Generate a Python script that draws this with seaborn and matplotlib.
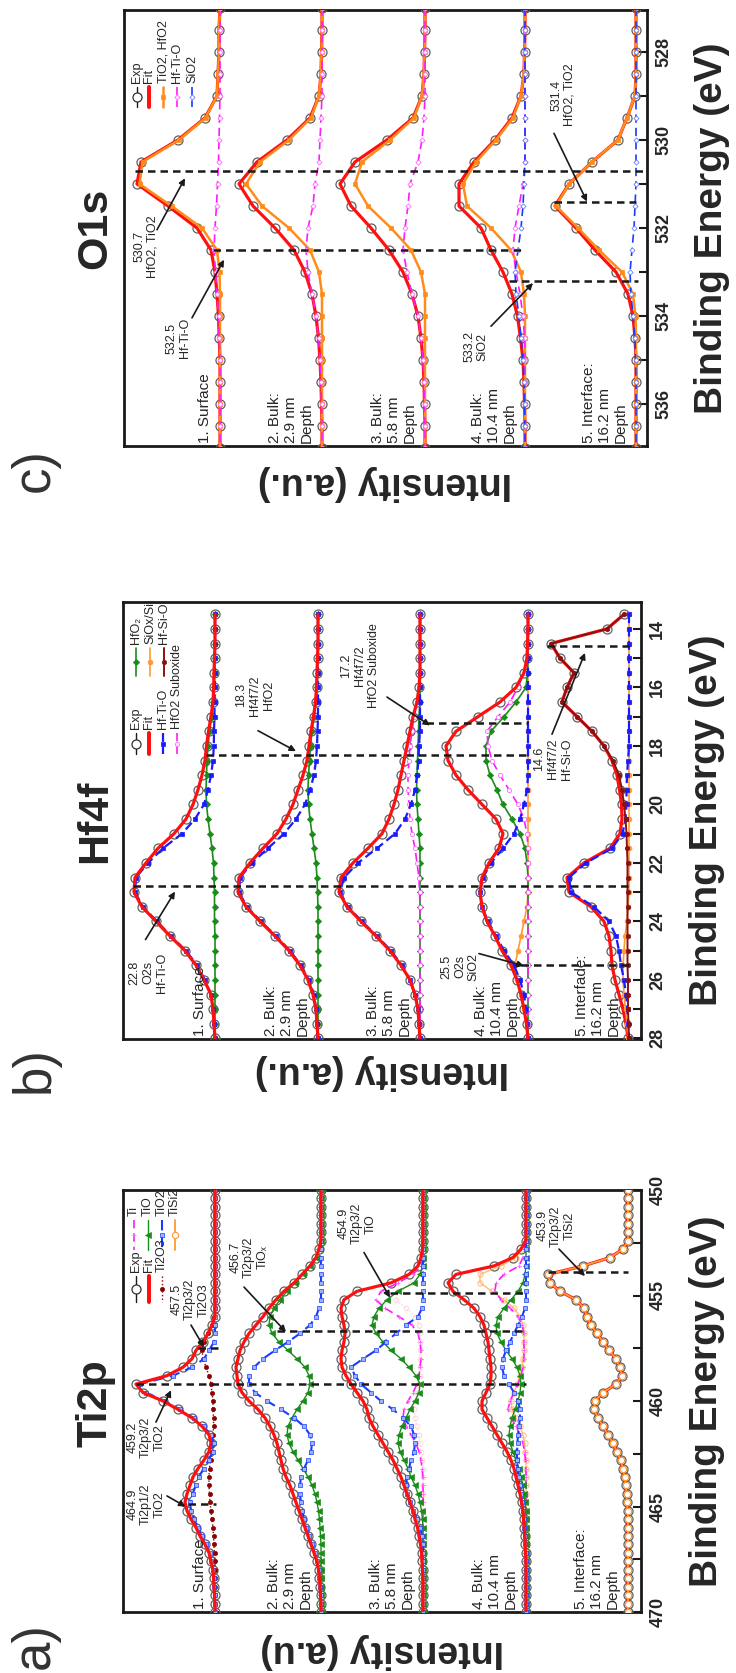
import numpy as np
import matplotlib
matplotlib.use("Agg")
import matplotlib.pyplot as plt
from matplotlib.lines import Line2D
import seaborn as sns

# ---------------- O1s (panel c) ----------------
o1s_energy = [527.0, 527.5, 528.0, 528.5, 529.0, 529.5, 530.0, 530.5, 531.0, 531.5,
              532.0, 532.5, 533.0, 533.5, 534.0, 534.5, 535.0, 535.5, 536.0, 536.5, 537.0]

o_exp_1 = [0, 0.01, 0.01, 0.02, 0.03, 0.15, 0.42, 0.79, 0.83, 0.52,
           0.23, 0.09, 0.05, 0.03, 0.015, 0.008, 0, 0, 0, 0, 0]
o_tio2_1 = [0, 0.01, 0.01, 0.02, 0.03, 0.145, 0.41, 0.775, 0.805, 0.485,
            0.18, 0.03, 0.005, 0, 0, 0, 0, 0, 0, 0, 0]
o_hftio_1 = [0, 0, 0, 0, 0, 0.005, 0.01, 0.015, 0.025, 0.035,
             0.05, 0.06, 0.045, 0.03, 0.015, 0.008, 0, 0, 0, 0, 0]

o_exp_2 = [0, 0, 0.005, 0.01, 0.03, 0.12, 0.35, 0.65, 0.83, 0.69,
           0.47, 0.28, 0.17, 0.10, 0.06, 0.035, 0.02, 0.01, 0.005, 0, 0]
o_tio2_2 = [0, 0, 0.005, 0.01, 0.03, 0.11, 0.33, 0.62, 0.76, 0.60,
            0.33, 0.12, 0.03, 0, 0, 0, 0, 0, 0, 0, 0]
o_hftio_2 = [0, 0, 0, 0, 0, 0.01, 0.02, 0.03, 0.07, 0.09,
             0.14, 0.16, 0.14, 0.10, 0.06, 0.035, 0.02, 0.01, 0.005, 0, 0]

o_exp_3 = [0, 0, 0.005, 0.01, 0.03, 0.12, 0.38, 0.70, 0.85, 0.74,
           0.54, 0.36, 0.22, 0.13, 0.07, 0.04, 0.02, 0.01, 0.005, 0, 0]
o_tio2_3 = [0, 0, 0.005, 0.01, 0.03, 0.11, 0.35, 0.63, 0.70, 0.57,
            0.34, 0.14, 0.04, 0, 0, 0, 0, 0, 0, 0, 0]
o_hftio_3 = [0, 0, 0, 0, 0, 0.01, 0.03, 0.07, 0.15, 0.17,
             0.20, 0.22, 0.18, 0.13, 0.07, 0.04, 0.02, 0.01, 0.005, 0, 0]

o_exp_4 = [0, 0, 0.005, 0.01, 0.04, 0.13, 0.30, 0.51, 0.66, 0.66,
           0.44, 0.34, 0.22, 0.13, 0.075, 0.045, 0.02, 0.01, 0.005, 0, 0]
o_tio2_4 = [0, 0, 0.005, 0.01, 0.04, 0.12, 0.29, 0.49, 0.62, 0.58,
            0.34, 0.14, 0.04, 0.01, 0, 0, 0, 0, 0, 0, 0]
o_hftio_4 = [0, 0, 0, 0, 0, 0, 0, 0, 0.02, 0.06,
             0.10, 0.12, 0.09, 0.05, 0.02, 0.005, 0, 0, 0, 0, 0]
o_sio2_4 = [0, 0, 0, 0, 0, 0, 0, 0, 0.01, 0.02,
            0.04, 0.07, 0.10, 0.09, 0.06, 0.04, 0.02, 0.01, 0.005, 0, 0]

o_exp_5 = [0, 0, 0, 0, 0.01, 0.09, 0.18, 0.44, 0.67, 0.81,
           0.60, 0.41, 0.20, 0.08, 0.03, 0.01, 0, 0, 0, 0, 0]
o_tio2_5 = [0, 0, 0, 0, 0.01, 0.09, 0.18, 0.44, 0.67, 0.80,
            0.58, 0.37, 0.14, 0.03, 0.005, 0, 0, 0, 0, 0, 0]
o_sio2_5 = [0, 0, 0, 0, 0, 0, 0, 0, 0, 0.01,
            0.02, 0.04, 0.06, 0.05, 0.03, 0.01, 0.005, 0, 0, 0, 0]

o1s_peaks = [530.7, 532.5, 533.2, 531.4]

# ---------------- Hf4f (panel b) ----------------
hf_energy = [13.5, 14.0, 14.5, 15.0, 15.5, 16.0, 16.5, 17.0, 17.5, 18.0,
             18.5, 19.0, 19.5, 20.0, 20.5, 21.0, 21.5, 22.0, 22.5, 23.0,
             23.5, 24.0, 24.5, 25.0, 25.5, 26.0, 26.5, 27.0, 27.5, 28.0]

hf_exp_1 = [0, 0, 0, 0.005, 0.01, 0.013, 0.02, 0.04, 0.065, 0.085,
            0.10, 0.13, 0.17, 0.22, 0.29, 0.41, 0.57, 0.69, 0.80, 0.81,
            0.73, 0.59, 0.45, 0.30, 0.19, 0.11, 0.04, 0.02, 0.01, 0]
hf_hftio_1 = [0, 0, 0, 0, 0, 0, 0.005, 0.005, 0.01, 0.012,
              0.02, 0.04, 0.07, 0.11, 0.20, 0.33, 0.52, 0.67, 0.79, 0.80,
              0.72, 0.58, 0.44, 0.29, 0.18, 0.10, 0.04, 0.02, 0.01, 0]
hf_hfo2_1 = [0, 0, 0, 0, 0.005, 0.01, 0.02, 0.035, 0.055, 0.07,
             0.08, 0.085, 0.09, 0.085, 0.07, 0.05, 0.03, 0.015, 0.01, 0.005,
             0.005, 0.005, 0, 0, 0, 0, 0, 0, 0, 0]

hf_exp_2 = [0, 0, 0, 0.005, 0.01, 0.015, 0.025, 0.045, 0.07, 0.09,
            0.11, 0.15, 0.20, 0.25, 0.32, 0.41, 0.55, 0.68, 0.79, 0.80,
            0.72, 0.58, 0.43, 0.29, 0.18, 0.10, 0.05, 0.02, 0.01, 0]
hf_hftio_2 = [0, 0, 0, 0, 0, 0, 0, 0, 0.005, 0.01,
              0.02, 0.04, 0.08, 0.13, 0.22, 0.34, 0.50, 0.66, 0.78, 0.79,
              0.71, 0.57, 0.42, 0.28, 0.17, 0.09, 0.04, 0.02, 0.01, 0]
hf_hfo2_2 = [0, 0, 0, 0, 0.005, 0.01, 0.02, 0.04, 0.06, 0.075,
             0.085, 0.095, 0.10, 0.095, 0.08, 0.06, 0.04, 0.02, 0.01, 0.005,
             0, 0, 0, 0, 0, 0, 0, 0, 0, 0]

hf_exp_3 = [0, 0, 0, 0, 0, 0.01, 0.03, 0.07, 0.10, 0.13,
            0.16, 0.19, 0.22, 0.26, 0.31, 0.38, 0.52, 0.67, 0.79, 0.81,
            0.73, 0.59, 0.44, 0.30, 0.19, 0.10, 0.05, 0.02, 0.01, 0]
hf_hftio_3 = [0, 0, 0, 0, 0, 0, 0, 0, 0, 0.01,
              0.015, 0.03, 0.05, 0.09, 0.15, 0.25, 0.43, 0.62, 0.76, 0.80,
              0.72, 0.58, 0.43, 0.29, 0.18, 0.10, 0.05, 0.02, 0.01, 0]
hf_sub_3 = [0, 0, 0, 0, 0, 0.01, 0.03, 0.06, 0.08, 0.10,
            0.11, 0.12, 0.12, 0.11, 0.10, 0.08, 0.05, 0.03, 0.01, 0.005,
            0, 0, 0, 0, 0, 0, 0, 0, 0, 0]
hf_hfo2_3 = [0, 0, 0, 0, 0, 0, 0, 0.01, 0.015, 0.02,
             0.025, 0.03, 0.035, 0.03, 0.02, 0.01, 0, 0, 0, 0,
             0, 0, 0, 0, 0, 0, 0, 0, 0, 0]

hf_exp_4 = [0, 0, 0.005, 0.01, 0.04, 0.12, 0.28, 0.50, 0.72, 0.82,
            0.80, 0.72, 0.60, 0.46, 0.32, 0.25, 0.29, 0.39, 0.46, 0.48,
            0.46, 0.41, 0.33, 0.26, 0.17, 0.11, 0.07, 0.04, 0.015, 0]
hf_hftio_4 = [0, 0, 0, 0, 0, 0, 0, 0, 0, 0,
              0, 0, 0.01, 0.04, 0.08, 0.14, 0.25, 0.37, 0.45, 0.48,
              0.46, 0.40, 0.32, 0.24, 0.14, 0.08, 0.04, 0.02, 0.01, 0]
hf_siox_4 = [0, 0, 0, 0, 0, 0, 0, 0, 0, 0,
             0, 0, 0, 0, 0, 0, 0, 0, 0, 0,
             0.01, 0.04, 0.07, 0.10, 0.13, 0.11, 0.07, 0.04, 0.015, 0.005]
hf_hfo2_4 = [0, 0, 0, 0, 0.005, 0.02, 0.12, 0.24, 0.37, 0.42,
             0.42, 0.38, 0.31, 0.25, 0.16, 0.08, 0.03, 0.01, 0, 0,
             0, 0, 0, 0, 0, 0, 0, 0, 0, 0]
hf_sub_4 = [0, 0, 0, 0.01, 0.04, 0.10, 0.18, 0.30, 0.41, 0.40,
            0.36, 0.28, 0.19, 0.10, 0.04, 0.01, 0, 0, 0, 0,
            0, 0, 0, 0, 0, 0, 0, 0, 0, 0]

hf_exp_5 = [0.05, 0.22, 0.78, 0.69, 0.55, 0.62, 0.67, 0.52, 0.37, 0.25,
            0.17, 0.12, 0.095, 0.075, 0.07, 0.09, 0.19, 0.45, 0.62, 0.60,
            0.38, 0.25, 0.20, 0.18, 0.17, 0.14, 0.10, 0.06, 0.03, 0.01]
hf_hfsio_5 = [0.05, 0.22, 0.78, 0.69, 0.55, 0.62, 0.67, 0.52, 0.37, 0.25,
              0.16, 0.10, 0.07, 0.05, 0.035, 0.025, 0.02, 0.015, 0.015, 0.015,
              0.015, 0.015, 0.015, 0.015, 0.015, 0.01, 0.01, 0.01, 0.005, 0]
hf_hftio_5 = [0, 0, 0, 0, 0, 0, 0, 0, 0, 0,
              0.01, 0.02, 0.025, 0.025, 0.035, 0.065, 0.17, 0.43, 0.60, 0.58,
              0.35, 0.20, 0.13, 0.10, 0.08, 0.05, 0.03, 0.015, 0.01, 0]
hf_siox_5 = [0, 0, 0, 0, 0, 0, 0, 0, 0, 0,
             0, 0, 0, 0, 0, 0, 0, 0, 0, 0,
             0.01, 0.02, 0.04, 0.05, 0.06, 0.06, 0.05, 0.035, 0.02, 0.01]

hf_peaks = [22.8, 18.3, 17.2, 25.5, 14.6]

# ---------------- Ti2p (panel a) ----------------
ti_energy = [450.0, 450.4, 450.8, 451.2, 451.6, 452.0, 452.4, 452.8, 453.2, 453.6,
             454.0, 454.4, 454.8, 455.2, 455.6, 456.0, 456.4, 456.8, 457.2, 457.6,
             458.0, 458.4, 458.8, 459.2, 459.6, 460.0, 460.4, 460.8, 461.2, 461.6,
             462.0, 462.4, 462.8, 463.2, 463.6, 464.0, 464.4, 464.8, 465.2, 465.6,
             466.0, 466.4, 466.8, 467.2, 467.6, 468.0, 468.4, 468.8, 469.2, 469.6,
             470.0]

ti_exp_1 = [0, 0, 0, 0, 0, 0, 0, 0, 0, 0,
            0, 0, 0, 0, 0, 0, 0.03, 0.07, 0.12, 0.19,
            0.23, 0.32, 0.48, 0.79, 0.72, 0.52, 0.37, 0.23, 0.13, 0.06,
            0.04, 0.06, 0.11, 0.17, 0.22, 0.25, 0.28, 0.30, 0.28, 0.24,
            0.19, 0.15, 0.10, 0.06, 0.04, 0.02, 0.014, 0.01, 0.005, 0,
            0]
ti_ti2o3_1 = [0, 0, 0, 0, 0, 0, 0, 0, 0, 0,
              0, 0, 0, 0, 0.005, 0.01, 0.03, 0.07, 0.11, 0.13,
              0.12, 0.09, 0.06, 0.04, 0.03, 0.02, 0.02, 0.015, 0.015, 0.02,
              0.025, 0.035, 0.045, 0.055, 0.06, 0.06, 0.055, 0.05, 0.04, 0.03,
              0.02, 0.015, 0.01, 0.005, 0, 0, 0, 0, 0, 0,
              0]
ti_tio2_1 = [0, 0, 0, 0, 0, 0, 0, 0, 0, 0,
             0, 0, 0, 0, 0, 0, 0, 0, 0.01, 0.06,
             0.11, 0.23, 0.42, 0.75, 0.69, 0.50, 0.35, 0.215, 0.115, 0.04,
             0.015, 0.025, 0.065, 0.115, 0.16, 0.19, 0.225, 0.25, 0.24, 0.21,
             0.17, 0.135, 0.09, 0.055, 0.04, 0.02, 0.014, 0.01, 0.005, 0,
             0]

ti_exp_2 = [0, 0, 0, 0, 0, 0, 0, 0.02, 0.05, 0.11,
            0.19, 0.27, 0.37, 0.45, 0.52, 0.58, 0.65, 0.72, 0.77, 0.81,
            0.83, 0.85, 0.84, 0.83, 0.79, 0.72, 0.63, 0.56, 0.51, 0.47,
            0.44, 0.42, 0.40, 0.38, 0.35, 0.31, 0.28, 0.25, 0.22, 0.19,
            0.16, 0.13, 0.10, 0.07, 0.04, 0.025, 0.015, 0.01, 0.005, 0,
            0]
ti_tio_2 = [0, 0, 0, 0, 0, 0, 0, 0.02, 0.05, 0.11,
            0.18, 0.26, 0.34, 0.41, 0.47, 0.51, 0.52, 0.49, 0.42, 0.33,
            0.24, 0.16, 0.12, 0.11, 0.13, 0.18, 0.24, 0.29, 0.33, 0.34,
            0.32, 0.28, 0.23, 0.18, 0.13, 0.09, 0.06, 0.04, 0.025, 0.015,
            0.01, 0.005, 0, 0, 0, 0, 0, 0, 0, 0,
            0]
ti_tio2_2 = [0, 0, 0, 0, 0, 0, 0, 0, 0, 0,
             0, 0, 0, 0, 0.02, 0.05, 0.11, 0.21, 0.33, 0.46,
             0.58, 0.67, 0.72, 0.72, 0.66, 0.54, 0.40, 0.27, 0.17, 0.11,
             0.09, 0.10, 0.13, 0.17, 0.20, 0.21, 0.21, 0.20, 0.19, 0.17,
             0.15, 0.12, 0.09, 0.065, 0.04, 0.025, 0.015, 0.01, 0.005, 0,
             0]

ti_exp_3 = [0, 0, 0, 0, 0, 0, 0, 0.005, 0.02, 0.05,
            0.14, 0.32, 0.66, 0.79, 0.82, 0.81, 0.79, 0.78, 0.79, 0.81,
            0.82, 0.81, 0.77, 0.72, 0.66, 0.60, 0.56, 0.54, 0.50, 0.45,
            0.40, 0.35, 0.30, 0.26, 0.22, 0.19, 0.16, 0.13, 0.10, 0.08,
            0.055, 0.04, 0.025, 0.015, 0.01, 0.005, 0, 0, 0, 0,
            0]
ti_ti_3 = [0, 0, 0, 0, 0, 0, 0, 0, 0, 0.02,
           0.10, 0.25, 0.42, 0.47, 0.38, 0.24, 0.11, 0.05, 0.03, 0.02,
           0.02, 0.03, 0.04, 0.06, 0.10, 0.15, 0.19, 0.20, 0.17, 0.12,
           0.07, 0.04, 0.02, 0.01, 0, 0, 0, 0, 0, 0,
           0, 0, 0, 0, 0, 0, 0, 0, 0, 0,
           0]
ti_tio_3 = [0, 0, 0, 0, 0, 0, 0, 0, 0, 0,
            0.03, 0.09, 0.25, 0.36, 0.44, 0.49, 0.51, 0.47, 0.40, 0.32,
            0.22, 0.14, 0.07, 0.03, 0.04, 0.08, 0.13, 0.17, 0.21, 0.24,
            0.25, 0.23, 0.19, 0.15, 0.12, 0.08, 0.05, 0.03, 0.015, 0.005,
            0, 0, 0, 0, 0, 0, 0, 0, 0, 0,
            0]
ti_tio2_3 = [0, 0, 0, 0, 0, 0, 0, 0, 0, 0,
             0, 0, 0, 0, 0.01, 0.05, 0.17, 0.27, 0.37, 0.47,
             0.60, 0.72, 0.68, 0.62, 0.52, 0.42, 0.30, 0.20, 0.12, 0.09,
             0.08, 0.09, 0.12, 0.14, 0.16, 0.17, 0.16, 0.13, 0.10, 0.06,
             0.03, 0.01, 0, 0, 0, 0, 0, 0, 0, 0,
             0]
ti_tisi2_3 = [0, 0, 0, 0, 0, 0, 0, 0, 0, 0,
              0.03, 0.12, 0.25, 0.27, 0.17, 0.08, 0.04, 0.03, 0.03, 0.03,
              0.03, 0.03, 0.03, 0.04, 0.06, 0.08, 0.09, 0.08, 0.06, 0.04,
              0.03, 0.02, 0.01, 0, 0, 0, 0, 0, 0, 0,
              0, 0, 0, 0, 0, 0, 0, 0, 0, 0,
              0]

ti_exp_4 = [0, 0, 0, 0, 0, 0, 0, 0.05, 0.13, 0.32,
            0.70, 0.78, 0.73, 0.62, 0.52, 0.46, 0.42, 0.40, 0.38, 0.37,
            0.36, 0.35, 0.35, 0.36, 0.40, 0.44, 0.44, 0.39, 0.34, 0.29,
            0.24, 0.19, 0.15, 0.12, 0.10, 0.08, 0.06, 0.045, 0.03, 0.025,
            0.018, 0.012, 0.008, 0.005, 0, 0, 0, 0, 0, 0,
            0]
ti_tisi2_4 = [0, 0, 0, 0, 0, 0, 0, 0.04, 0.10, 0.25,
              0.46, 0.46, 0.34, 0.22, 0.12, 0.06, 0.03, 0.02, 0.02, 0.02,
              0.03, 0.04, 0.06, 0.09, 0.12, 0.15, 0.14, 0.10, 0.06, 0.03,
              0.015, 0.01, 0, 0, 0, 0, 0, 0, 0, 0,
              0, 0, 0, 0, 0, 0, 0, 0, 0, 0,
              0]
ti_ti_4 = [0, 0, 0, 0, 0, 0, 0, 0.01, 0.03, 0.07,
           0.22, 0.30, 0.31, 0.25, 0.16, 0.08, 0.04, 0.02, 0.02, 0.02,
           0.02, 0.03, 0.05, 0.08, 0.12, 0.16, 0.18, 0.15, 0.10, 0.06,
           0.03, 0.015, 0.005, 0, 0, 0, 0, 0, 0, 0,
           0, 0, 0, 0, 0, 0, 0, 0, 0, 0,
           0]
ti_tio_4 = [0, 0, 0, 0, 0, 0, 0, 0, 0, 0,
            0.01, 0.03, 0.08, 0.15, 0.22, 0.28, 0.30, 0.29, 0.25, 0.20,
            0.14, 0.09, 0.06, 0.05, 0.06, 0.08, 0.11, 0.14, 0.16, 0.17,
            0.16, 0.13, 0.10, 0.07, 0.05, 0.03, 0.02, 0.01, 0, 0,
            0, 0, 0, 0, 0, 0, 0, 0, 0, 0,
            0]
ti_tio2_4 = [0, 0, 0, 0, 0, 0, 0, 0, 0, 0,
             0, 0, 0, 0, 0.01, 0.04, 0.08, 0.12, 0.16, 0.20,
             0.23, 0.24, 0.22, 0.17, 0.12, 0.08, 0.06, 0.06, 0.07, 0.08,
             0.085, 0.09, 0.09, 0.085, 0.075, 0.065, 0.05, 0.04, 0.03, 0.025,
             0.018, 0.012, 0.008, 0.005, 0, 0, 0, 0, 0, 0,
             0]

ti_exp_5 = [0, 0, 0, 0, 0, 0, 0, 0.05, 0.18, 0.45,
            0.80, 0.78, 0.68, 0.52, 0.44, 0.41, 0.37, 0.31, 0.25, 0.19,
            0.12, 0.08, 0.06, 0.12, 0.25, 0.33, 0.34, 0.30, 0.25, 0.20,
            0.15, 0.11, 0.075, 0.05, 0.035, 0.02, 0.015, 0.01, 0.005, 0,
            0, 0, 0, 0, 0, 0, 0, 0, 0, 0,
            0]

ti_peaks = [459.2, 457.5, 464.9, 456.7, 454.9, 453.9]

depth_labels = ["1. Surface", "2. Bulk:\n2.9 nm\nDepth", "3. Bulk:\n5.8 nm\nDepth",
                "4. Bulk:\n10.4 nm\nDepth", "5. Interface:\n16.2 nm\nDepth"]
depth_labels_b = ["1. Surface", "2. Bulk:\n2.9 nm\nDepth", "3. Bulk:\n5.8 nm\nDepth",
                  "4. Bulk:\n10.4 nm\nDepth", "5. Interfade:\n16.2 nm\nDepth"]

# ---------------- styles ----------------
DASH = (0, (5, 3))
STYLE = {
    'exp': dict(color='#555555', linestyle='none', marker='o', markersize=6.5,
                markerfacecolor='none', markeredgecolor='#606060', markeredgewidth=0.9),
    'fit': dict(color='#ff1010', linewidth=2.3, linestyle='-'),
    'o_tio2': dict(color='#ff8c1a', linewidth=1.8, marker='s', markersize=3.2,
                   markerfacecolor='#ff8c1a', markeredgecolor='#ff8c1a', markeredgewidth=0.5),
    'o_hftio': dict(color='#ff1aff', linewidth=1.2, linestyle=DASH, marker='D', markersize=2.6,
                    markerfacecolor='white', markeredgecolor='#ff66ff', markeredgewidth=0.6),
    'o_sio2': dict(color='#1a3cff', linewidth=1.2, linestyle=DASH, marker='D', markersize=2.6,
                   markerfacecolor='white', markeredgecolor='#6680ff', markeredgewidth=0.6),
    'hf_hftio': dict(color='#1a1aff', linewidth=1.6, linestyle=(0, (4, 2)), marker='s', markersize=3.2,
                     markerfacecolor='#1a1aff', markeredgecolor='#1a1aff', markeredgewidth=0.5),
    'hf_sub': dict(color='#ff1aff', linewidth=1.2, linestyle=DASH, marker='o', markersize=3,
                   markerfacecolor='white', markeredgecolor='#ff66ff', markeredgewidth=0.6),
    'hf_hfo2': dict(color='#1a8c1a', linewidth=1.2, marker='D', markersize=3.2,
                    markerfacecolor='#1a8c1a', markeredgecolor='#1a8c1a', markeredgewidth=0.5),
    'hf_siox': dict(color='#ff9933', linewidth=1.2, marker='o', markersize=3.5,
                    markerfacecolor='#ff9933', markeredgecolor='#ff9933', markeredgewidth=0.5),
    'hf_hfsio': dict(color='#8b1010', linewidth=1.4, marker='h', markersize=3.5,
                     markerfacecolor='#8b1010', markeredgecolor='#8b1010', markeredgewidth=0.5),
    'ti_ti': dict(color='#ff1aff', linewidth=1.2, linestyle=DASH, marker='+', markersize=3,
                  markerfacecolor='#ff66ff', markeredgecolor='#ff66ff', markeredgewidth=0.7),
    'ti_tio': dict(color='#1a8c1a', linewidth=1.0, marker='<', markersize=4.5,
                   markerfacecolor='#1a8c1a', markeredgecolor='#1a8c1a', markeredgewidth=0.5),
    'ti_tio2': dict(color='#1a3cff', linewidth=1.5, linestyle=DASH, marker='s', markersize=2.6,
                    markerfacecolor='#99b3ff', markeredgecolor='#1a3cff', markeredgewidth=0.5),
    'ti_ti2o3': dict(color='#8b0000', linewidth=1.0, linestyle=':', marker='o', markersize=3,
                     markerfacecolor='#8b0000', markeredgecolor='#8b0000', markeredgewidth=0.5),
    'ti_tisi2': dict(color='#ff9933', linewidth=1.3, marker='o', markersize=4.5,
                     markerfacecolor='white', markeredgecolor='#ff9933', markeredgewidth=0.8),
    'ti_tisi2_mid': dict(color='#ffa64d', linewidth=1.0, marker='o', markersize=3.8, alpha=0.75,
                         markerfacecolor='none', markeredgecolor='#ffa64d', markeredgewidth=0.7),
    'ti_tisi2_faint': dict(color='#ffb3b3', linewidth=0.9, linestyle=':', marker='o', markersize=3.5,
                           alpha=0.6, markerfacecolor='none', markeredgecolor='#ffb3b3',
                           markeredgewidth=0.6),
}

sns.set_theme(style="white")
plt.rcParams['font.family'] = ['Liberation Sans', 'DejaVu Sans']

W, H = 736, 1673
fig = plt.figure(figsize=(W / 100, H / 100), dpi=100)


def fx(x):
    return x / W


def fy(y):
    return 1 - y / H


def draw_panel(box, energy, exps, comps, offsets, ylim, major, minor, fit_on_top, comps_top=()):
    x0, y0, x1, y1 = box
    ax = fig.add_axes([fx(x0), fy(y1), (x1 - x0) / W, (y1 - y0) / H])
    e = np.asarray(energy, dtype=float)
    for i, off in enumerate(offsets):
        ex = np.asarray(exps[i], dtype=float) + off
        sns.lineplot(x=ex, y=e, ax=ax, sort=False, estimator=None, legend=False,
                     zorder=3, **STYLE['exp'])
        cz = 5.5 if i in comps_top else 4
        for key, vals in comps[i]:
            sns.lineplot(x=np.asarray(vals, dtype=float) + off, y=e, ax=ax, sort=False,
                         estimator=None, legend=False, zorder=cz, **STYLE[key])
        sns.lineplot(x=ex, y=e, ax=ax, sort=False, estimator=None, legend=False,
                     zorder=5 if fit_on_top else 3.5, **STYLE['fit'])
    ax.set_xlim((x1 - x0) / 100, 0)
    ax.set_ylim(*ylim)
    ax.set_xticks([])
    ax.set_xlabel('')
    ax.set_ylabel('')
    ax.yaxis.tick_right()
    ax.set_yticks(major)
    ax.set_yticks(minor, minor=True)
    ax.set_yticklabels([f'{v:g}' for v in major], fontweight='bold', rotation=90,
                       va='center', ha='left')
    ax.tick_params(axis='y', which='both', direction='in', right=True, left=False,
                   length=6, width=1.5, color='k', labelsize=13, pad=6,
                   labelright=True, labelleft=False)
    for s in ax.spines.values():
        s.set_visible(True)
        s.set_linewidth(2)
        s.set_color('k')
    return ax


def drops(ax, energies, starts, ends):
    for e, a, b in zip(energies, starts, ends):
        ax.plot([a, b], [e, e], color='k', lw=1.8, ls=(0, (3, 2)), zorder=6)


def notes(ax, items):
    for txt, u, e, tail, head in items:
        ax.text(u, e, txt, rotation=90, ha='center', va='center', multialignment='center',
                fontsize=9, zorder=7)
        ax.annotate('', xy=head, xytext=tail,
                    arrowprops=dict(arrowstyle='-|>', color='k', lw=1.2, mutation_scale=9,
                                    shrinkA=0, shrinkB=0), zorder=7)


def depth_text(ax, labels, offsets):
    for lab, off in zip(labels, offsets):
        ax.text(off + 0.08, 0.008, lab, transform=ax.get_xaxis_transform(), rotation=90,
                ha='right', va='bottom', multialignment='left', fontsize=11, zorder=7)


def legend(entries, xs, y_top, y_bot):
    for (key, label), x in zip(entries, xs):
        st = STYLE[key]
        if key == 'exp':
            fig.add_artist(Line2D([fx(x), fx(x)], [fy(y_top), fy(y_bot)], color='k', lw=1.0,
                                  transform=fig.transFigure))
        else:
            fig.add_artist(Line2D([fx(x), fx(x)], [fy(y_top), fy(y_bot)], color=st['color'],
                                  lw=st.get('linewidth', 1.2) + (0.6 if key == 'fit' else 0),
                                  ls=st.get('linestyle', '-'), transform=fig.transFigure))
        if 'marker' in st:
            mk = {k: st[k] for k in ('marker', 'markersize', 'markerfacecolor',
                                     'markeredgecolor', 'markeredgewidth') if k in st}
            if key == 'exp':
                mk.update(markerfacecolor='white', markeredgecolor='#333333')
            fig.add_artist(Line2D([fx(x)], [fy((y_top + y_bot) / 2)], ls='none',
                                  transform=fig.transFigure, **mk))
        fig.text(fx(x), fy(y_top - 4), label, rotation=90, ha='center', va='bottom', fontsize=9)


# ---------------- panel c : O1s ----------------
offs_c = [4.27, 3.25, 2.22, 1.22, 0.11]
ax_c = draw_panel((124, 10, 647, 446), o1s_energy,
                  [o_exp_1, o_exp_2, o_exp_3, o_exp_4, o_exp_5],
                  [[('o_tio2', o_tio2_1), ('o_hftio', o_hftio_1)],
                   [('o_tio2', o_tio2_2), ('o_hftio', o_hftio_2)],
                   [('o_tio2', o_tio2_3), ('o_hftio', o_hftio_3)],
                   [('o_tio2', o_tio2_4), ('o_hftio', o_hftio_4), ('o_sio2', o_sio2_4)],
                   [('o_tio2', o_tio2_5), ('o_sio2', o_sio2_5)]],
                  offs_c, (536.95, 527.05), [528, 530, 532, 534, 536], [529, 531, 533, 535], False)
drops(ax_c, o1s_peaks, [5.12, 4.34, 1.38, 0.93], [0.0, 1.22, 0.09, 0.11])
notes(ax_c, [("530.7\nHfO2, TiO2", 5.01, 532.42, (4.90, 532.04), (4.62, 530.87)),
             ("532.5\nHf-Ti-O", 4.69, 534.5, (4.55, 534.04), (4.23, 532.72)),
             ("533.2\nSiO2", 1.71, 534.7, (1.56, 534.23), (1.14, 533.25)),
             ("531.4\nHfO2, TiO2", 0.84, 528.98, (0.93, 529.85), (0.60, 531.4))])
depth_text(ax_c, depth_labels, offs_c)
legend([('exp', 'Exp'), ('fit', 'Fit'), ('o_tio2', 'TiO2, HfO2'), ('o_hftio', 'Hf-Ti-O'),
        ('o_sio2', 'SiO2')], [137, 149, 163, 177, 192], 87, 107)

# ---------------- panel b : Hf4f ----------------
offs_b = [4.26, 3.23, 2.21, 1.13, 0.12]
ax_b = draw_panel((123, 602, 641, 1039), hf_energy,
                  [hf_exp_1, hf_exp_2, hf_exp_3, hf_exp_4, hf_exp_5],
                  [[('hf_hfo2', hf_hfo2_1), ('hf_hftio', hf_hftio_1)],
                   [('hf_hfo2', hf_hfo2_2), ('hf_hftio', hf_hftio_2)],
                   [('hf_hfo2', hf_hfo2_3), ('hf_sub', hf_sub_3), ('hf_hftio', hf_hftio_3)],
                   [('hf_siox', hf_siox_4), ('hf_hfo2', hf_hfo2_4), ('hf_sub', hf_sub_4),
                    ('hf_hftio', hf_hftio_4)],
                   [('hf_siox', hf_siox_5), ('hf_hftio', hf_hftio_5), ('hf_hfsio', hf_hfsio_5)]],
                  offs_b, (28.02, 13.08), [14, 16, 18, 20, 22, 24, 26, 28],
                  [15, 17, 19, 21, 23, 25, 27], True, comps_top=(4,))
drops(ax_b, hf_peaks, [5.08, 4.35, 2.15, 1.20, 0.94], [0.12, 1.13, 1.13, 0.12, 0.12])
notes(ax_b, [("22.8\nO2s\nHf-Ti-O", 4.93, 25.75, (4.955, 24.62), (4.66, 22.98)),
             ("18.3\nHf4f7/2\nHfO2", 3.86, 16.27, (3.83, 17.48), (3.45, 18.18)),
             ("17.2\nHf4f7/2\nHfO2 Suboxide", 2.81, 15.25, (2.54, 16.33), (2.11, 17.30)),
             ("25.5\nO2s\nSiO2", 1.81, 25.55, (1.62, 25.1), (1.17, 25.52)),
             ("14.6\nHf4f7/2\nHf-Si-O", 0.88, 18.45, (0.89, 17.6), (0.56, 14.82))])
depth_text(ax_b, depth_labels_b, offs_b)
legend([('exp', 'Exp'), ('fit', 'Fit'), ('hf_hftio', 'Hf-Ti-O'), ('hf_sub', 'HfO2 Suboxide')],
       [136, 149, 163, 177], 733, 754)
legend([('hf_hfo2', 'HfO\u2082'), ('hf_siox', 'SiOx/Si'), ('hf_hfsio', 'Hf-Si-O')],
       [136, 150, 164], 648, 676)

# ---------------- panel a : Ti2p ----------------
offs_a = [4.26, 3.20, 2.18, 1.15, 0.13]
ax_a = draw_panel((123, 1190, 641, 1612), ti_energy,
                  [ti_exp_1, ti_exp_2, ti_exp_3, ti_exp_4, ti_exp_5],
                  [[('ti_ti2o3', ti_ti2o3_1), ('ti_tio2', ti_tio2_1)],
                   [('ti_tio', ti_tio_2), ('ti_tio2', ti_tio2_2)],
                   [('ti_tisi2_faint', ti_tisi2_3), ('ti_ti', ti_ti_3), ('ti_tio', ti_tio_3),
                    ('ti_tio2', ti_tio2_3)],
                   [('ti_tisi2_mid', ti_tisi2_4), ('ti_ti', ti_ti_4), ('ti_tio', ti_tio_4),
                    ('ti_tio2', ti_tio2_4)],
                   [('ti_tisi2', ti_exp_5)]],
                  offs_a, (470, 450), [450, 455, 460, 465, 470], [452.5, 457.5, 462.5, 467.5], True,
                  comps_top=(4,))
drops(ax_a, ti_peaks, [5.05, 4.43, 4.53, 3.64, 2.51, 0.93], [1.15, 4.18, 4.25, 1.15, 1.15, 0.13])
notes(ax_a, [("464.9\nTi2p1/2\nTiO2", 4.95, 464.9, (4.74, 464.5), (4.555, 465.0)),
             ("459.2\nTi2p3/2\nTiO2", 4.95, 461.73, (4.85, 461.0), (4.70, 459.49)),
             ("457.5\nTi2p3/2\nTi2O3", 4.51, 455.2, (4.50, 456.4), (4.37, 457.45)),
             ("456.7\nTi2p3/2\nTiO\u2093", 3.92, 453.2, (3.97, 454.6), (3.55, 456.73)),
             ("454.9\nTi2p3/2\nTiO", 2.84, 451.6, (2.77, 452.96), (2.51, 455.1)),
             ("453.9\nTi2p3/2\nTiSi2", 0.85, 451.7, (0.82, 452.8), (0.56, 454.08))])
depth_text(ax_a, depth_labels, offs_a)
legend([('exp', 'Exp'), ('fit', 'Fit'), ('ti_ti2o3', 'Ti2O3')], [136, 149, 162], 1276, 1302)
legend([('ti_ti', 'Ti'), ('ti_tio', 'TiO'), ('ti_tio2', 'TiO2'), ('ti_tisi2', 'TiSi2')],
       [134, 148, 162, 175], 1220, 1250)

# ---------------- figure texts ----------------
for txt, x, y in [("O1s", 95, 228), ("Hf4f", 95, 821), ("Ti2p", 95, 1403)]:
    fig.text(fx(x), fy(y), txt, rotation=90, ha='center', va='center', fontsize=31,
             fontweight='bold')
for txt, x, y in [("c)", 35, 470), ("b)", 35, 1070), ("a)", 35, 1646)]:
    fig.text(fx(x), fy(y), txt, rotation=90, ha='center', va='center', fontsize=38,
             color='#333333')
for txt, x, y in [("Intensity (a.u.)", 385, 483), ("Intensity (a.u.)", 382, 1072),
                  ("Intensity (a.u)", 382, 1651)]:
    fig.text(fx(x), fy(y), txt, rotation=180, ha='center', va='center', fontsize=27,
             fontweight='bold')
for x, y in [(712, 228), (707, 820), (707, 1401)]:
    fig.text(fx(x), fy(y), "Binding Energy (eV)", rotation=90, ha='center', va='center',
             fontsize=28, fontweight='bold')

fig.savefig("out.png", dpi=100, facecolor='white')
